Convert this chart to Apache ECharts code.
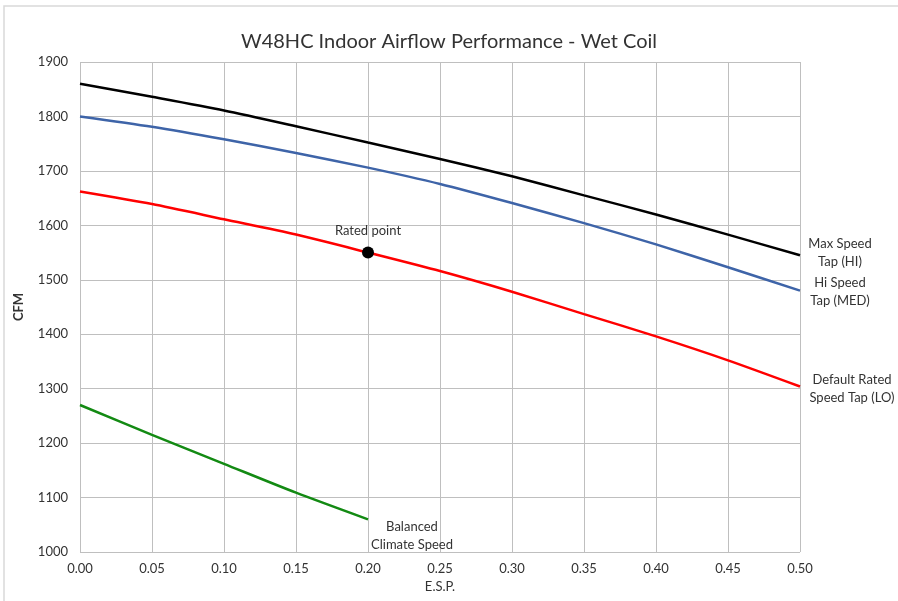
<!DOCTYPE html>
<html>
<head>
<meta charset="utf-8">
<script src="https://cdn.jsdelivr.net/npm/echarts@6/dist/echarts.min.js"></script>
<style>html,body{margin:0;padding:0;background:#fff}#c{width:898px;height:601px}</style>
</head>
<body>
<div id="c"></div>
<script>
const esp = [0.00, 0.05, 0.10, 0.15, 0.20, 0.25, 0.30, 0.35, 0.40, 0.45, 0.50];
const maxSpeedHI = [1860, 1836, 1811, 1782, 1752, 1722, 1690, 1655, 1620, 1583, 1545];
const hiSpeedMED = [1800, 1781, 1758, 1733, 1706, 1676, 1641, 1604, 1565, 1523, 1480];
const defaultLO = [1662, 1639, 1611, 1583, 1550, 1516, 1478, 1437, 1396, 1352, 1304];
const balancedEsp = [0.00, 0.05, 0.10, 0.15, 0.20];
const balanced = [1270, 1215, 1162, 1109, 1060];
const ratedPoint = [0.20, 1550];
const yTicks = [1000, 1100, 1200, 1300, 1400, 1500, 1600, 1700, 1800, 1900];

const FONT = 'Lato';
const TXT = '#333333';

function pairs(xs, ys) { return xs.map((x, i) => [x, ys[i]]); }
function endLabel(text, offset) {
  return {
    show: true, formatter: text, offset: offset, align: 'center', verticalAlign: 'middle',
    fontFamily: FONT, fontSize: 13, color: TXT, lineHeight: 18, distance: 0
  };
}

const chart = echarts.init(document.getElementById('c'));
chart.setOption({
  animation: false,
  backgroundColor: '#fff',
  title: {
    text: 'W48HC Indoor Airflow Performance - Wet Coil',
    left: 'center', top: 27,
    textStyle: { fontFamily: FONT, fontSize: 20, fontWeight: 'normal', color: TXT }
  },
  graphic: [{
    type: 'polyline', silent: true,
    shape: { points: [[4, 601], [4, 6], [898, 6]] },
    style: { stroke: '#d9d9d9', lineWidth: 1.5, fill: null }
  }],
  grid: { left: 80, right: 98, top: 62, bottom: 49 },
  xAxis: {
    type: 'value', min: 0, max: 0.5, interval: 0.05,
    name: 'E.S.P.', nameLocation: 'middle', nameGap: 28,
    nameTextStyle: { fontFamily: FONT, fontSize: 13, color: TXT },
    axisLine: { show: false }, axisTick: { show: false },
    axisLabel: { formatter: v => v.toFixed(2), fontFamily: FONT, fontSize: 13, color: TXT, margin: 10 },
    splitLine: { show: true, lineStyle: { color: '#bfbfbf', width: 1 } }
  },
  yAxis: {
    type: 'value', min: yTicks[0], max: yTicks[yTicks.length - 1], interval: 100,
    name: 'CFM', nameLocation: 'middle', nameGap: 55,
    nameTextStyle: { fontFamily: FONT, fontSize: 13, color: TXT, fontWeight: 'bold' },
    axisLine: { show: false }, axisTick: { show: false },
    axisLabel: { formatter: v => String(v), fontFamily: FONT, fontSize: 13, color: TXT, margin: 12 },
    splitLine: { show: true, lineStyle: { color: '#bfbfbf', width: 1 } }
  },
  series: [
    {
      type: 'line', smooth: 0.25, symbol: 'none',
      lineStyle: { color: '#000000', width: 2.5 }, itemStyle: { color: '#000' },
      endLabel: endLabel('Max Speed\nTap (HI)', [40, -2]),
      data: pairs(esp, maxSpeedHI)
    },
    {
      type: 'line', smooth: 0.25, symbol: 'none',
      lineStyle: { color: '#3e64a8', width: 2.5 }, itemStyle: { color: '#3e64a8' },
      endLabel: endLabel('Hi Speed\nTap (MED)', [40, 1]),
      data: pairs(esp, hiSpeedMED)
    },
    {
      type: 'line', smooth: 0.25, symbol: 'none',
      lineStyle: { color: '#ff0000', width: 2.5 }, itemStyle: { color: '#ff0000' },
      endLabel: endLabel('Default Rated\nSpeed Tap (LO)', [52, 2]),
      data: pairs(esp, defaultLO)
    },
    {
      type: 'line', smooth: 0.25, symbol: 'none',
      lineStyle: { color: '#138a13', width: 2.5 }, itemStyle: { color: '#138a13' },
      endLabel: endLabel('Balanced\nClimate Speed', [44, 16]),
      data: pairs(balancedEsp, balanced)
    },
    {
      type: 'scatter', symbolSize: 12, z: 5,
      itemStyle: { color: '#000', opacity: 1 },
      label: { show: true, position: 'top', distance: 9, formatter: 'Rated point',
        fontFamily: FONT, fontSize: 13, color: TXT },
      data: [ratedPoint]
    }
  ]
});
</script>
</body>
</html>
